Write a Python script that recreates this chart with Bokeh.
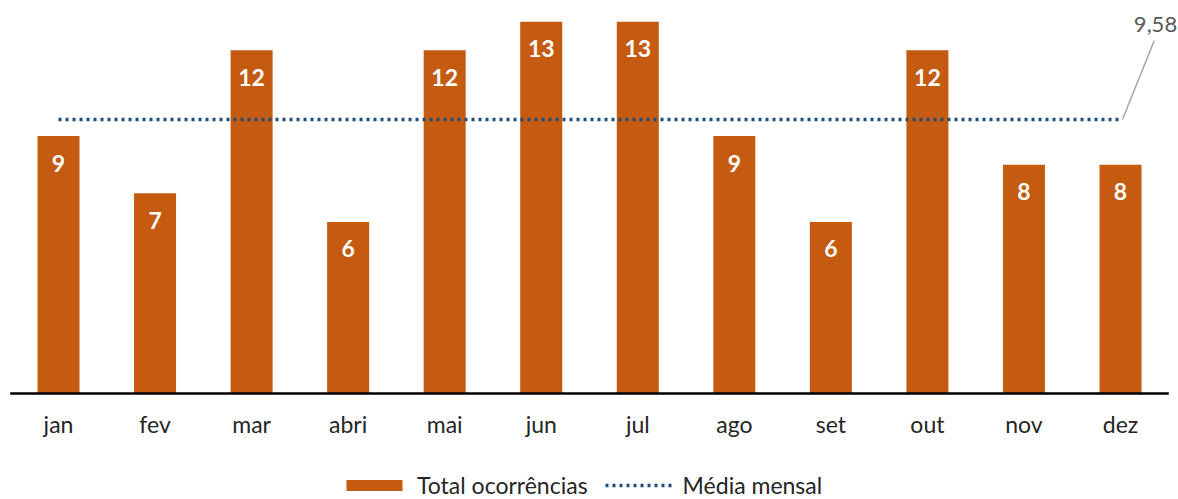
from bokeh.plotting import figure
from bokeh.models import (Range1d, Legend, LegendItem, Label, ColumnDataSource)
from bokeh.core.properties import value
from bokeh.embed import file_html
from bokeh.resources import INLINE

months = ["jan", "fev", "mar", "abri", "mai", "jun", "jul", "ago", "set", "out", "nov", "dez"]
totals = [9, 7, 12, 6, 12, 13, 13, 9, 6, 12, 8, 8]
media = 9.58

BAR_COLOR = "#C55A11"
LINE_COLOR = "#1F4E79"
FONT = "Lato"

n = len(months)
xs = list(range(n))
src = ColumnDataSource(dict(x=xs, top=totals, label=[str(v) for v in totals]))
cat_src = ColumnDataSource(dict(x=xs, y=[0] * n, month=months))

p = figure(width=1178, height=499, output_backend="svg", toolbar_location=None,
           x_range=Range1d(-0.6008, 11.6007), y_range=Range1d(-3.706, 13.741),
           x_axis_location=None, y_axis_location=None, min_border=0)
p.outline_line_color = None
p.grid.visible = False
p.background_fill_color = "white"

bars = p.vbar(x="x", top="top", width=0.435, source=src, fill_color=BAR_COLOR, line_color=None)
p.text(x="x", y="top", text="label", source=src, y_offset=27, text_align="center",
       text_baseline="middle", text_color="white", text_font=value(FONT),
       text_font_style="bold", text_font_size="23px")

# category axis: baseline and month labels
p.segment(x0=[-0.5], y0=[0], x1=[n - 0.5], y1=[0], line_color="black", line_width=2.5)
p.text(x="x", y="y", text="month", source=cat_src, y_offset=30, text_align="center",
       text_baseline="middle", text_color="#262626", text_font=value(FONT),
       text_font_size="23px")

avg_line = p.line(x=[xs[0], xs[-1]], y=[media, media], line_color=LINE_COLOR, line_width=3.5,
                  line_dash="3 4")

# leader line + value label
p.segment(x0=[xs[-1] + 0.02], y0=[media], x1=[xs[-1] + 0.35], y1=[media + 2.76],
          line_color="#A6A6A6", line_width=1.5)
p.add_layout(Label(x=xs[-1], y=media, x_offset=35, y_offset=95,
                   text=f"{media:.2f}".replace(".", ","), text_align="center",
                   text_baseline="middle", text_color="#595959", text_font=FONT,
                   text_font_size="22px"))

legend = Legend(items=[LegendItem(label="Total ocorrências", renderers=[bars]),
                       LegendItem(label="Média mensal", renderers=[avg_line])],
                orientation="horizontal", location=(339, 0), padding=0, margin=0,
                spacing=17, label_standoff=8, glyph_width=70, glyph_height=14,
                label_text_font=FONT, label_text_font_size="23px",
                label_text_color="#262626", border_line_color=None,
                background_fill_alpha=0)
p.add_layout(legend, "center")

open("out.html", "w").write(file_html(p, INLINE))
